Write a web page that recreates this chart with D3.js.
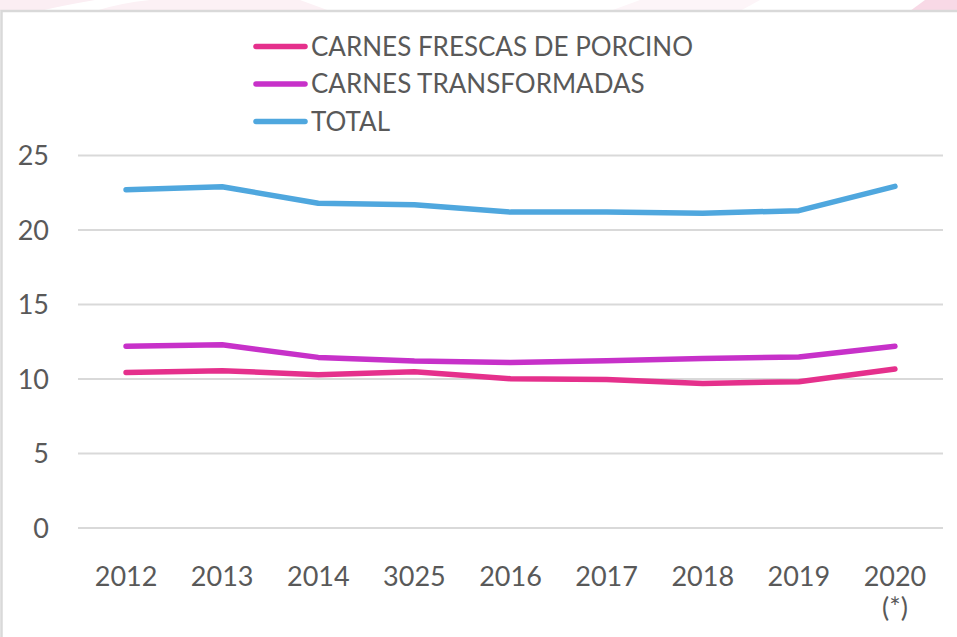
<!DOCTYPE html>
<html>
<head>
<meta charset="utf-8">
<script src="https://cdn.jsdelivr.net/npm/d3@7"></script>
<style>
  html, body { margin: 0; padding: 0; background: #ffffff; }
  svg { display: block; }
  text { font-family: Lato, "Open Sans", sans-serif; fill: #595959; }
</style>
</head>
<body>
<svg id="chart" width="957" height="637"></svg>
<script>
const categories = ["2012", "2013", "2014", "3025", "2016", "2017", "2018", "2019", "2020"];
const categorySubLabels = ["", "", "", "", "", "", "", "", "(*)"];
const seriesNames = ["CARNES FRESCAS DE PORCINO", "CARNES TRANSFORMADAS", "TOTAL"];
const frescas = [10.44, 10.56, 10.29, 10.49, 10.02, 9.97, 9.70, 9.82, 10.67];
const transformadas = [12.2, 12.3, 11.45, 11.2, 11.1, 11.22, 11.38, 11.47, 12.2];
const total = [22.7, 22.9, 21.8, 21.7, 21.2, 21.2, 21.12, 21.3, 22.93];
const yTicks = [0, 5, 10, 15, 20, 25];
const colors = ["#E5308C", "#C731C9", "#4FA7DE"];

const svg = d3.select("#chart");

// faint decorative background at top
svg.append("path").attr("d", "M0,0 L95,0 Q60,6 40,11 L0,11 Z").attr("fill", "#fbeef3");
svg.append("path").attr("d", "M150,0 L300,0 L330,11 L95,11 Q120,3 150,0 Z").attr("fill", "#fcf1f5");
svg.append("path").attr("d", "M640,0 L760,0 L740,11 L610,11 Z").attr("fill", "#fdf5f8");
svg.append("path").attr("d", "M925,0 L957,0 L957,11 L910,11 Z").attr("fill", "#f8d9e6");

// chart frame
svg.append("rect").attr("x", 1.5).attr("y", 11).attr("width", 970).attr("height", 640)
  .attr("fill", "#ffffff").attr("stroke", "#d9d9d9").attr("stroke-width", 2.5);

const x = d3.scaleBand().domain(categories).range([78, 943]);
const y = d3.scaleLinear().domain([0, 25]).range([528, 155.5]);

// gridlines
svg.append("g").selectAll("line").data(yTicks).join("line")
  .attr("x1", 78).attr("x2", 943)
  .attr("y1", d => y(d)).attr("y2", d => y(d))
  .attr("stroke", "#d9d9d9").attr("stroke-width", 2);

// y axis labels
const yAxis = d3.axisLeft(y).tickValues(yTicks).tickSize(0).tickPadding(0);
const gy = svg.append("g").attr("transform", "translate(49,0)").call(yAxis);
gy.select(".domain").remove();
gy.selectAll("text").attr("font-size", 27).attr("font-family", "Lato").attr("fill", "#595959").attr("dy", "0.35em");

// x axis labels
const xAxis = d3.axisBottom(x).tickSize(0).tickPadding(0);
const gx = svg.append("g").attr("transform", "translate(0,577)").call(xAxis);
gx.select(".domain").remove();
gx.selectAll("text").attr("font-size", 27).attr("font-family", "Lato").attr("fill", "#595959").attr("dy", "0.35em");
gx.selectAll(".tick").append("text")
  .text((d, i) => categorySubLabels[i])
  .attr("font-size", 27).attr("font-family", "Lato").attr("fill", "#595959")
  .attr("text-anchor", "middle").attr("y", 31).attr("dy", "0.35em");

// lines
const seriesData = [frescas, transformadas, total];
const line = d3.line().x((d, i) => x(categories[i]) + x.bandwidth() / 2).y(d => y(d));
svg.append("g").selectAll("path").data(seriesData).join("path")
  .attr("d", d => line(d))
  .attr("fill", "none")
  .attr("stroke", (d, i) => colors[i])
  .attr("stroke-width", 5.5)
  .attr("stroke-linecap", "round")
  .attr("stroke-linejoin", "round");

// legend
const legend = svg.append("g");
const lg = legend.selectAll("g").data(seriesNames).join("g")
  .attr("transform", (d, i) => `translate(0,${46.5 + i * 37.5})`);
lg.append("line").attr("x1", 256).attr("x2", 305).attr("y1", 0).attr("y2", 0)
  .attr("stroke", (d, i) => colors[i]).attr("stroke-width", 5.5).attr("stroke-linecap", "round");
lg.append("text").attr("x", 311).attr("y", 0).attr("dy", "0.35em")
  .attr("font-size", 26).text(d => d);
</script>
</body>
</html>
